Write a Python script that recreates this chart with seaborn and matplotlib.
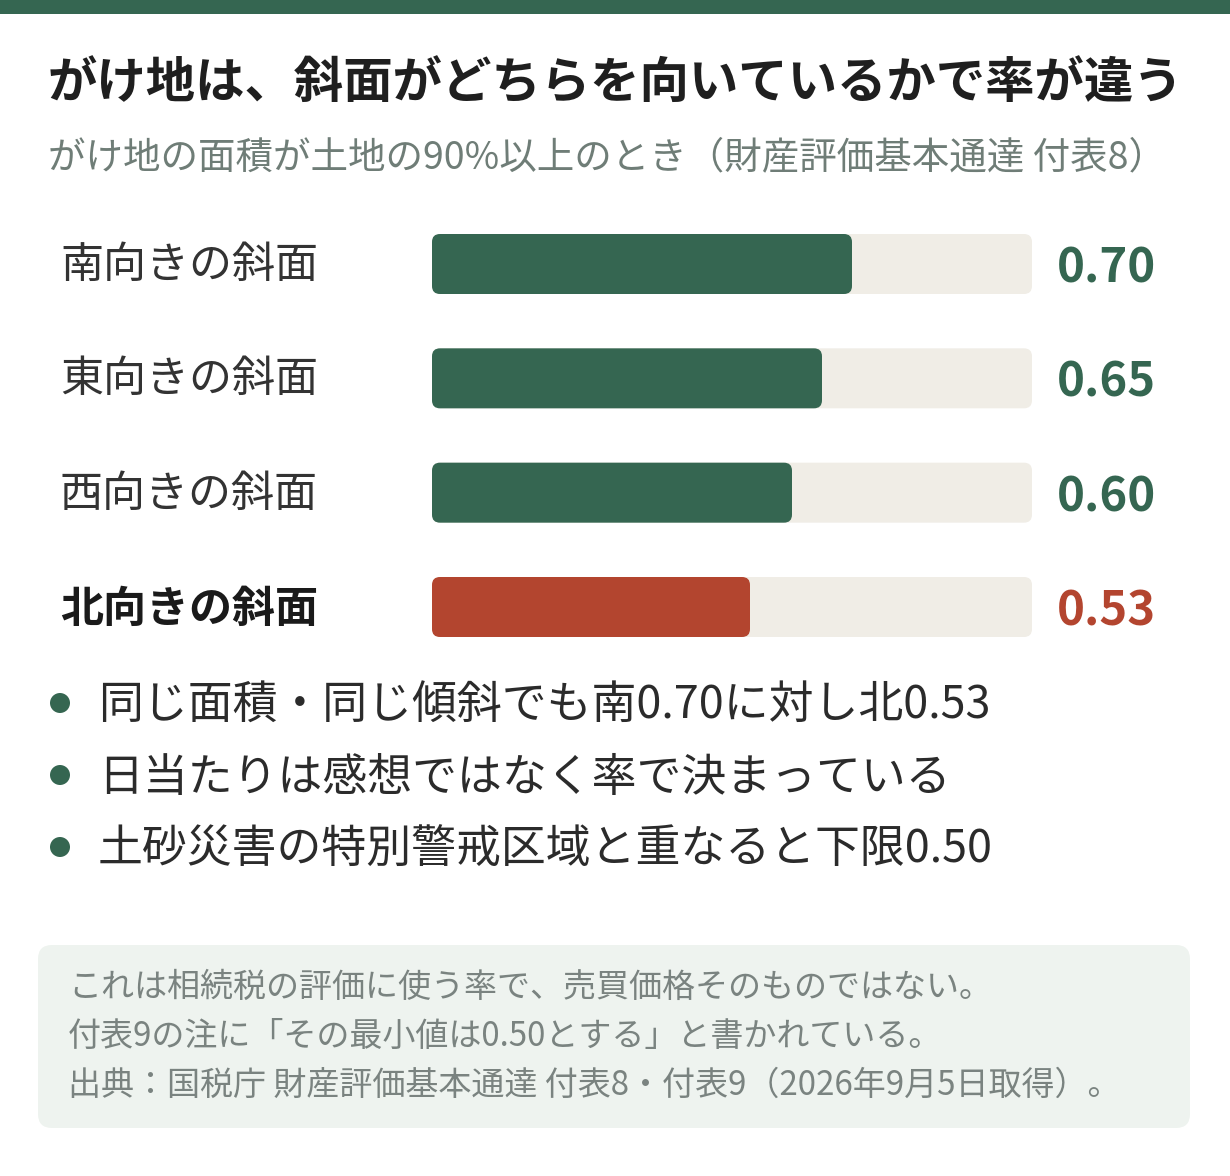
import pandas as pd
import matplotlib.pyplot as plt
import seaborn as sns
from matplotlib.patches import FancyBboxPatch, Rectangle, Ellipse

# data
labels = ["南向きの斜面", "東向きの斜面", "西向きの斜面", "北向きの斜面"]
values = [0.70, 0.65, 0.60, 0.53]
value_text = ["0.70", "0.65", "0.60", "0.53"]
bar_colors = ["#356651", "#356651", "#356651", "#b3452f"]
highlight = "北向きの斜面"

title = "がけ地は、斜面がどちらを向いているかで率が違う"
subtitle = "がけ地の面積が土地の90%以上のとき（財産評価基本通達 付表8）"
bullets = [
    "同じ面積・同じ傾斜でも南0.70に対し北0.53",
    "日当たりは感想ではなく率で決まっている",
    "土砂災害の特別警戒区域と重なると下限0.50",
]
notes = [
    "これは相続税の評価に使う率で、売買価格そのものではない。",
    "付表9の注に「その最小値は0.50とする」と書かれている。",
    "出典：国税庁 財産評価基本通達 付表8・付表9（2026年9月5日取得）。",
]

GREEN = "#356651"
TRACK = "#f0ede6"
W, H = 1230, 1176


def fx(px):
    return px / W


def fy(py):
    return 1 - py / H


sns.set_theme(style="white")
plt.rcParams["font.family"] = ["Noto Sans CJK JP", "DejaVu Sans"]

fig = plt.figure(figsize=(W / 100, H / 100), dpi=100)
fig.patch.set_facecolor("white")

# top band
fig.add_artist(Rectangle((0, fy(14)), 1, 14 / H, transform=fig.transFigure,
                         facecolor=GREEN, edgecolor="none"))

fig.text(fx(48), fy(84), title, fontsize=35.6, fontweight="bold",
         color="#1f1f1f", va="center", ha="left")
fig.text(fx(48), fy(158), subtitle, fontsize=27, color="#6f7d77",
         va="center", ha="left")

# bars: axes spans rows at y=264..607 px, x=432..1032 px
top_row = 264
row_gap = (607 - 264) / 3
ax = fig.add_axes([fx(432), fy(top_row + 3.5 * row_gap), 600 / W, 4 * row_gap / H])

df = pd.DataFrame({"label": labels, "value": values, "full": [1.0] * len(labels)})
bw = 60 / row_gap
sns.barplot(data=df, x="full", y="label", color=TRACK, width=bw,
            saturation=1, ax=ax)
sns.barplot(data=df, x="value", y="label", hue="label", palette=bar_colors,
            width=bw, saturation=1, legend=False, ax=ax)

ax.set_xlim(0, 1)
ax.set_ylim(len(labels) - 0.5, -0.5)
ax.axis("off")

# round the bar corners
r = 8 / 600
aspect = (8 / row_gap) / r
for p in list(ax.patches):
    x0, y0 = p.get_x(), p.get_y()
    w, h = p.get_width(), p.get_height()
    fc = p.get_facecolor()
    p.remove()
    ax.add_patch(FancyBboxPatch((x0, y0), w, h,
                                boxstyle=f"round,pad=0,rounding_size={r}",
                                mutation_aspect=aspect, facecolor=fc,
                                edgecolor="none", clip_on=False))

for i, (lab, vt, c) in enumerate(zip(labels, value_text, bar_colors)):
    ax.text(1.042, i + 0.04, vt, fontsize=34, fontweight="bold", color=c,
            va="center", ha="left", clip_on=False)
    bold = lab == highlight
    fig.text(fx(60), fy(top_row + 2 + i * row_gap), lab, fontsize=31,
             fontweight="bold" if bold else "normal",
             color="#1a1a1a" if bold else "#333333", va="center", ha="left")

# bullet points
for j, b in enumerate(bullets):
    yy = 703 + j * 72
    fig.add_artist(Ellipse((fx(60), fy(yy)), 20 / W, 20 / H,
                           transform=fig.transFigure, facecolor=GREEN,
                           edgecolor="none"))
    fig.text(fx(98), fy(yy + 3), b, fontsize=32.3, color="#2b2b2b",
             va="center", ha="left")

# note box
fig.add_artist(FancyBboxPatch((fx(38), fy(1128)), fx(1190 - 38), 183 / H,
                              boxstyle=f"round,pad=0,rounding_size={14 / W}",
                              mutation_aspect=W / H, transform=fig.transFigure,
                              facecolor="#eef3ef", edgecolor="none"))
for k, n in enumerate(notes):
    fig.text(fx(68), fy(987 + k * 49), n, fontsize=23.8, color="#7a8380",
             va="center", ha="left")

fig.savefig("out.png", dpi=100, facecolor="white")
